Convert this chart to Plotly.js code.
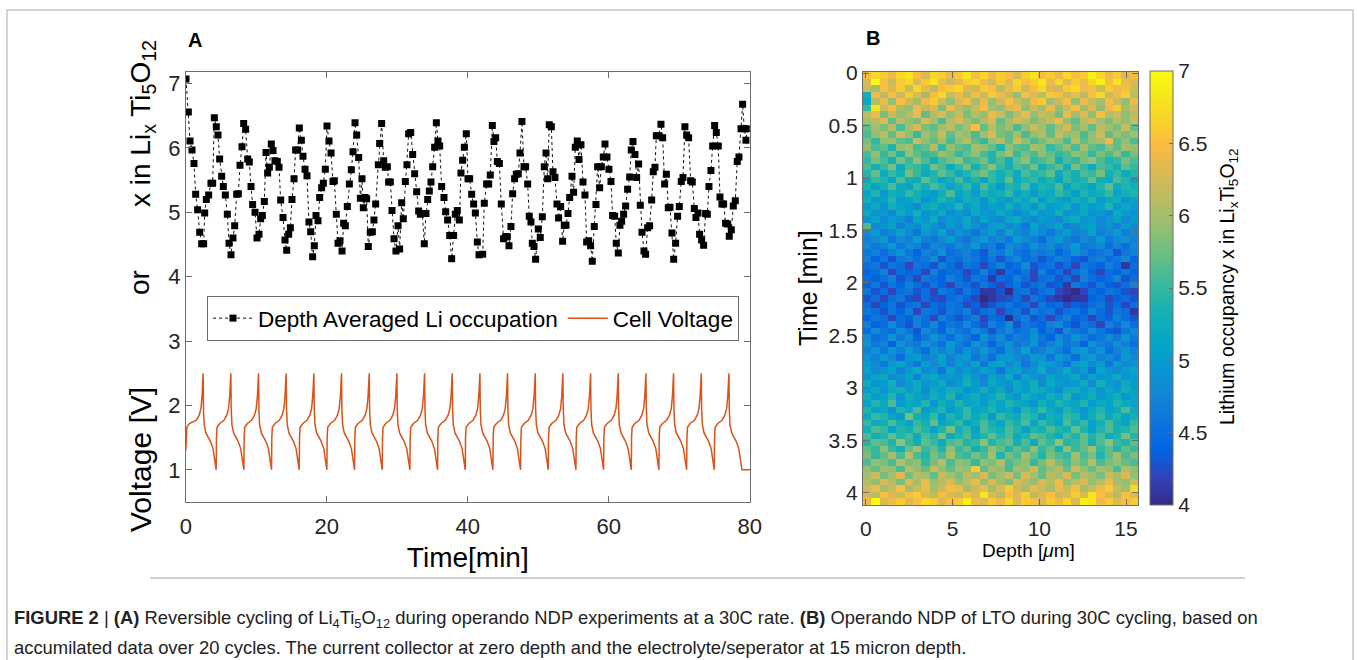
<!DOCTYPE html>
<html>
<head>
<meta charset="utf-8">
<script src="https://cdn.plot.ly/plotly-3.0.1.min.js"></script>
<style>html,body{margin:0;padding:0;background:#fff;}#chart{width:1357px;height:660px;}</style>
</head>
<body>
<div id="chart"></div>
<script>
// ---- Panel A: depth-averaged Li occupation (x in LixTi5O12) ----
const timeLi = [0.03,0.36,0.60,0.88,1.16,1.40,1.68,1.97,2.25,2.53,
2.68,2.91,3.24,3.57,3.81,4.05,4.33,4.57,4.80,5.09,
5.32,5.61,5.89,6.13,6.41,6.69,6.93,7.22,7.45,7.69,
7.97,8.21,8.49,8.78,9.01,9.25,9.48,9.82,10.10,10.38,
10.62,10.86,11.14,11.38,11.61,11.85,12.13,12.37,12.65,12.98,
13.22,13.46,13.79,14.07,14.31,14.59,14.83,15.06,15.35,15.58,
15.87,16.10,16.39,16.62,16.91,17.19,17.47,17.71,17.99,18.23,
18.47,18.75,18.99,19.27,19.51,19.79,20.03,20.31,20.60,20.88,
21.07,21.35,21.59,21.87,22.16,22.39,22.63,22.91,23.20,23.48,
23.72,24.00,24.24,24.52,24.76,24.99,25.18,25.42,25.65,25.89,
26.17,26.46,26.69,26.93,27.31,27.50,27.78,28.07,28.30,28.59,
28.77,29.01,29.25,29.53,29.81,30.10,30.33,30.62,30.85,31.14,
31.37,31.61,31.90,32.18,32.46,32.75,33.03,33.27,33.55,33.83,
34.07,34.31,34.54,34.78,35.02,35.30,35.54,35.77,36.01,36.29,
36.62,36.86,37.14,37.43,37.71,37.99,38.23,38.51,38.80,39.03,
39.27,39.51,39.79,40.03,40.26,40.55,40.83,41.07,41.35,41.59,
42.11,42.34,42.67,42.96,43.19,43.48,43.71,43.95,44.19,44.47,
44.75,45.08,45.37,45.60,45.84,46.12,46.36,46.64,46.88,47.16,
47.40,47.68,47.97,48.20,48.49,48.72,48.96,49.15,49.38,49.62,
50.00,50.28,50.57,50.85,51.09,51.32,51.56,51.85,52.08,52.36,
52.65,52.88,53.17,53.45,53.69,53.93,54.21,54.45,54.78,55.01,
55.25,55.53,55.77,56.05,56.34,56.62,56.86,57.14,57.42,57.66,
57.94,58.18,58.42,58.70,58.94,59.22,59.46,59.74,60.02,60.31,
60.54,60.83,61.06,61.35,61.58,61.82,62.10,62.39,62.67,62.96,
63.19,63.43,63.71,63.95,64.23,64.47,64.71,64.99,65.22,65.51,
65.79,66.08,66.31,66.55,66.74,67.07,67.40,67.64,67.92,68.16,
68.44,68.68,68.96,69.20,69.48,69.76,70.00,70.28,70.52,70.80,
71.04,71.32,71.61,71.84,72.13,72.36,72.65,72.88,73.17,73.45,
73.73,73.97,74.21,74.49,74.73,75.01,75.25,75.53,75.77,76.05,
76.29,76.57,76.86,77.09,77.38,77.66,77.94,78.22,78.46,78.75,
78.98,79.22,79.46,79.65];
const liOccupation = [7.07,6.56,6.11,5.97,5.76,5.28,5.04,4.69,4.51,4.51,
4.99,5.20,5.27,5.45,5.45,6.47,6.33,6.20,5.83,5.56,
5.40,5.27,4.97,4.52,4.34,4.60,4.79,5.28,5.29,5.73,
6.02,6.38,6.29,5.83,5.78,5.40,5.12,5.00,4.60,4.66,
4.90,4.95,5.17,5.93,5.61,5.70,6.06,5.96,5.80,5.79,
5.70,5.19,4.92,4.57,4.41,4.66,4.76,5.20,5.52,5.97,
5.97,6.31,6.12,5.87,5.67,5.57,4.85,4.70,4.31,4.48,
4.95,4.87,5.23,5.38,5.45,5.67,6.34,6.11,5.92,5.48,
5.49,4.97,4.52,4.56,4.40,4.83,4.79,5.09,5.44,5.66,
5.94,6.39,6.20,5.85,5.22,5.52,5.07,5.23,5.21,4.47,
4.69,4.70,4.88,5.13,5.74,6.07,6.38,5.80,5.70,5.71,
5.47,5.47,5.03,4.59,4.40,4.79,4.43,5.15,4.90,5.48,
5.74,6.22,6.24,5.90,5.60,5.32,5.02,4.97,4.98,4.51,
4.98,5.20,5.33,5.47,5.71,6.01,6.39,6.11,6.03,5.40,
5.23,5.01,4.88,4.64,4.28,4.64,4.97,5.03,4.88,5.61,
5.81,6.01,6.22,5.52,5.52,5.28,5.13,4.99,4.54,4.34,
4.35,5.14,5.44,5.44,5.58,6.35,6.10,6.16,5.79,5.76,
5.13,4.59,4.62,4.62,4.48,4.78,5.29,5.52,5.59,5.60,
5.92,6.41,5.71,5.71,5.44,4.94,4.85,4.52,4.47,4.27,
4.74,4.61,4.93,5.71,5.92,5.52,6.36,6.33,5.63,5.54,
5.13,4.91,5.09,4.55,4.80,4.80,4.98,5.23,5.56,5.31,
6.01,6.11,5.82,6.05,5.47,5.27,4.54,4.56,4.48,4.24,
4.78,5.12,5.71,5.38,5.71,5.86,6.06,5.86,5.67,5.48,
4.95,4.94,4.52,4.37,4.80,4.86,4.97,5.10,5.36,5.55,
5.97,6.10,5.90,5.54,5.75,5.11,4.69,4.40,4.35,4.76,
4.79,5.19,5.63,5.70,6.19,6.19,6.37,6.16,5.44,5.59,
5.07,5.08,4.68,4.27,4.52,4.94,5.09,5.48,5.54,6.33,
6.20,6.16,5.49,5.47,5.06,4.92,4.99,4.66,4.57,4.49,
4.98,4.97,5.40,5.65,6.03,6.35,6.24,6.03,5.24,5.13,
5.13,4.83,4.82,4.63,4.73,5.10,5.18,5.79,5.86,6.30,
6.68,6.30,6.12,6.30];

// ---- Panel A: cell voltage ----
const timeV = [0,0.15,0.5,1.0,1.5,1.9,2.15,2.31,2.46,2.51,2.61,2.86,3.46,3.86,4.11,
4.31,4.35,4.43,4.81,5.41,5.81,6.06,6.23,6.39,6.44,6.54,6.79,7.39,7.79,8.04,
8.24,8.28,8.36,8.74,9.34,9.74,9.99,10.16,10.32,10.37,10.47,10.72,11.32,11.72,11.97,
12.16,12.20,12.28,12.66,13.26,13.66,13.91,14.08,14.24,14.29,14.39,14.64,15.24,15.64,15.89,
16.09,16.13,16.21,16.59,17.19,17.59,17.84,18.01,18.17,18.22,18.32,18.57,19.17,19.57,19.82,
20.01,20.05,20.13,20.51,21.11,21.51,21.76,21.93,22.09,22.14,22.24,22.49,23.09,23.49,23.74,
23.94,23.98,24.06,24.44,25.04,25.44,25.69,25.86,26.02,26.07,26.17,26.42,27.02,27.42,27.67,
27.86,27.90,27.98,28.36,28.96,29.36,29.61,29.78,29.94,29.99,30.09,30.34,30.94,31.34,31.59,
31.79,31.83,31.91,32.29,32.89,33.29,33.54,33.71,33.87,33.92,34.02,34.27,34.87,35.27,35.52,
35.71,35.75,35.83,36.21,36.81,37.21,37.46,37.63,37.79,37.84,37.94,38.19,38.79,39.19,39.44,
39.64,39.68,39.76,40.14,40.74,41.14,41.39,41.56,41.72,41.77,41.87,42.12,42.72,43.12,43.37,
43.56,43.60,43.68,44.06,44.66,45.06,45.31,45.48,45.64,45.69,45.79,46.04,46.64,47.04,47.29,
47.49,47.53,47.61,47.99,48.59,48.99,49.24,49.41,49.57,49.62,49.72,49.97,50.57,50.97,51.22,
51.41,51.45,51.53,51.91,52.51,52.91,53.16,53.33,53.49,53.54,53.64,53.89,54.49,54.89,55.14,
55.34,55.38,55.46,55.84,56.44,56.84,57.09,57.26,57.42,57.47,57.57,57.82,58.42,58.82,59.07,
59.26,59.30,59.38,59.76,60.36,60.76,61.01,61.18,61.34,61.39,61.49,61.74,62.34,62.74,62.99,
63.19,63.23,63.31,63.69,64.29,64.69,64.94,65.11,65.27,65.32,65.42,65.67,66.27,66.67,66.92,
67.11,67.15,67.23,67.61,68.21,68.61,68.86,69.03,69.19,69.24,69.34,69.59,70.19,70.59,70.84,
71.04,71.08,71.16,71.54,72.14,72.54,72.79,72.96,73.12,73.17,73.27,73.52,74.12,74.52,74.77,
74.96,75.00,75.08,75.46,76.06,76.46,76.71,76.88,77.04,77.09,77.19,77.44,78.04,78.44,78.69,
78.89,80.00];
const cellVoltage = [1.30,1.66,1.72,1.75,1.77,1.85,1.95,2.15,2.50,1.95,1.70,1.57,1.45,1.33,1.17,
1.00,1.50,1.66,1.72,1.77,1.85,1.95,2.15,2.50,1.95,1.70,1.57,1.45,1.33,1.17,
1.00,1.50,1.66,1.72,1.77,1.85,1.95,2.15,2.50,1.95,1.70,1.57,1.45,1.33,1.17,
1.00,1.50,1.66,1.72,1.77,1.85,1.95,2.15,2.50,1.95,1.70,1.57,1.45,1.33,1.17,
1.00,1.50,1.66,1.72,1.77,1.85,1.95,2.15,2.50,1.95,1.70,1.57,1.45,1.33,1.17,
1.00,1.50,1.66,1.72,1.77,1.85,1.95,2.15,2.50,1.95,1.70,1.57,1.45,1.33,1.17,
1.00,1.50,1.66,1.72,1.77,1.85,1.95,2.15,2.50,1.95,1.70,1.57,1.45,1.33,1.17,
1.00,1.50,1.66,1.72,1.77,1.85,1.95,2.15,2.50,1.95,1.70,1.57,1.45,1.33,1.17,
1.00,1.50,1.66,1.72,1.77,1.85,1.95,2.15,2.50,1.95,1.70,1.57,1.45,1.33,1.17,
1.00,1.50,1.66,1.72,1.77,1.85,1.95,2.15,2.50,1.95,1.70,1.57,1.45,1.33,1.17,
1.00,1.50,1.66,1.72,1.77,1.85,1.95,2.15,2.50,1.95,1.70,1.57,1.45,1.33,1.17,
1.00,1.50,1.66,1.72,1.77,1.85,1.95,2.15,2.50,1.95,1.70,1.57,1.45,1.33,1.17,
1.00,1.50,1.66,1.72,1.77,1.85,1.95,2.15,2.50,1.95,1.70,1.57,1.45,1.33,1.17,
1.00,1.50,1.66,1.72,1.77,1.85,1.95,2.15,2.50,1.95,1.70,1.57,1.45,1.33,1.17,
1.00,1.50,1.66,1.72,1.77,1.85,1.95,2.15,2.50,1.95,1.70,1.57,1.45,1.33,1.17,
1.00,1.50,1.66,1.72,1.77,1.85,1.95,2.15,2.50,1.95,1.70,1.57,1.45,1.33,1.17,
1.00,1.50,1.66,1.72,1.77,1.85,1.95,2.15,2.50,1.95,1.70,1.57,1.45,1.33,1.17,
1.00,1.50,1.66,1.72,1.77,1.85,1.95,2.15,2.50,1.95,1.70,1.57,1.45,1.33,1.17,
1.00,1.50,1.66,1.72,1.77,1.85,1.95,2.15,2.50,1.95,1.70,1.57,1.45,1.33,1.17,
1.00,1.50,1.66,1.72,1.77,1.85,1.95,2.15,2.50,1.95,1.70,1.57,1.45,1.33,1.17,
1.00,1.00];

// ---- Panel B: operando NDP map ----
const depthUm = [0.07,0.55,1.03,1.51,1.99,2.47,2.95,3.43,3.91,4.39,4.87,5.35,5.83,6.31,6.79,7.27,7.75,8.23,8.71,9.19,9.67,10.15,10.63,11.11,11.59,12.07,12.55,13.03,13.51,13.99,14.47,14.95,15.43];
const timeMin = [0.021,0.084,0.146,0.209,0.271,0.334,0.396,0.459,0.521,0.584,0.646,0.709,0.771,0.834,0.896,0.959,1.021,1.084,1.146,1.209,1.271,1.334,1.396,1.459,1.521,1.584,1.646,1.709,1.771,1.834,1.896,1.959,2.021,2.084,2.146,2.209,2.271,2.334,2.396,2.459,2.521,2.584,2.646,2.709,2.771,2.834,2.896,2.959,3.021,3.084,3.146,3.209,3.271,3.334,3.396,3.459,3.521,3.584,3.646,3.709,3.771,3.834,3.896,3.959,4.021,4.084];
const liOccupancyMap = [
[6.5,6.7,6.6,6.4,6.7,6.8,6.5,6.3,6.7,6.6,6.4,6.6,6.8,6.5,6.7,6.4,6.6,6.5,6.3,6.6,6.8,6.5,6.6,6.4,6.7,6.5,6.6,6.9,6.7,6.4,6.6,6.3,6.5],
[6.3,7.0,6.5,6.2,6.6,6.7,6.3,6.6,6.8,6.4,6.2,6.4,6.6,6.7,6.4,6.2,6.6,6.3,6.7,6.5,6.6,6.8,6.4,6.7,6.3,6.6,6.4,6.7,6.9,6.5,6.8,6.4,6.3],
[6.2,6.0,6.5,6.3,6.6,6.2,6.7,6.4,6.1,6.5,6.6,6.7,6.3,6.2,6.6,6.5,6.1,6.4,6.6,6.2,6.5,6.7,6.3,6.2,6.6,6.7,6.4,6.5,6.2,6.6,6.4,6.5,6.2],
[5.3,6.4,6.1,6.5,6.2,6.6,6.3,6.0,6.5,6.7,6.2,6.4,6.1,6.5,6.2,6.6,6.4,6.2,5.9,6.5,6.3,6.1,6.6,6.5,6.2,6.4,6.1,6.5,6.7,6.2,6.4,6.6,6.1],
[5.2,6.1,6.4,5.9,6.5,6.2,6.0,6.4,6.6,6.2,5.9,6.3,6.5,6.0,6.4,5.9,6.2,6.5,6.2,6.0,6.4,6.6,6.0,6.2,6.5,5.9,6.4,6.2,6.0,6.5,6.2,5.9,6.4],
[5.5,6.8,6.2,6.5,6.0,5.9,6.4,6.1,6.3,5.8,6.4,6.1,5.9,6.2,6.5,6.0,5.9,6.3,6.4,5.9,6.2,6.0,6.4,5.9,6.2,6.5,6.0,6.3,5.9,6.4,6.6,6.0,6.2],
[6.1,6.4,5.8,6.2,5.9,6.1,6.4,5.7,6.1,6.3,5.9,6.2,5.8,6.1,5.9,6.4,6.2,5.8,6.1,6.4,5.9,6.2,6.1,5.8,6.4,6.0,6.3,5.9,6.5,6.1,6.2,5.9,6.1],
[6.0,6.1,6.3,5.7,6.1,5.9,5.8,6.3,6.0,5.6,6.1,6.3,6.0,5.8,6.1,6.3,5.7,6.0,6.3,6.1,5.8,6.0,6.2,6.4,5.9,5.7,6.1,6.3,6.0,5.8,6.1,5.9,6.2],
[5.7,6.0,5.8,6.1,5.6,6.0,6.3,5.8,5.7,6.0,6.1,5.8,6.0,6.5,5.7,6.1,5.8,6.0,5.6,5.9,6.2,6.0,5.7,6.0,6.3,5.8,6.0,5.7,6.1,6.0,5.8,6.2,5.7],
[5.6,5.9,6.1,5.7,6.2,5.9,5.5,6.0,5.8,6.2,5.7,6.0,5.9,5.6,6.0,6.3,5.8,5.7,6.0,5.6,5.9,6.1,5.7,6.2,5.9,6.0,5.6,5.9,6.2,5.7,6.0,5.8,6.0],
[5.8,5.5,5.9,6.0,5.7,5.6,6.2,5.9,5.7,6.0,5.6,5.9,6.1,5.7,5.5,5.9,6.1,5.7,6.2,5.9,5.6,5.8,6.0,5.9,5.6,6.1,5.7,5.9,6.0,6.4,5.7,5.9,5.6],
[5.9,5.6,5.7,5.4,5.9,6.0,5.6,5.7,6.1,5.5,5.9,5.7,5.6,6.0,5.9,5.7,5.4,5.9,5.7,5.6,6.0,5.9,5.5,5.7,5.9,5.6,6.0,5.7,5.6,5.9,5.7,6.0,5.9],
[5.6,5.9,5.5,5.8,5.4,5.9,5.7,5.5,5.6,6.0,5.8,5.5,5.7,5.9,5.6,5.4,5.8,6.0,5.5,5.8,5.6,5.9,5.7,5.5,5.6,5.9,5.8,5.5,5.8,5.6,5.9,5.5,5.8],
[5.5,5.8,5.6,5.3,5.8,5.5,5.9,5.6,5.3,5.6,5.8,5.9,5.5,5.6,5.8,5.4,5.6,5.3,5.7,5.9,5.5,5.6,5.8,5.3,5.6,5.5,5.8,5.9,5.6,5.4,5.5,5.8,5.6],
[5.6,5.3,5.5,5.8,5.2,5.6,5.5,5.3,5.8,5.6,5.2,5.5,5.8,5.3,5.6,5.9,5.5,5.3,5.6,5.5,5.8,5.3,5.5,5.7,5.3,5.8,5.5,5.2,5.6,5.5,5.3,5.7,5.5],
[5.4,5.7,5.2,5.5,5.3,5.8,5.5,5.2,5.4,5.7,5.5,5.2,5.4,5.6,5.8,5.5,5.3,5.5,5.2,5.6,5.4,5.5,5.7,5.2,5.5,5.3,5.6,5.5,5.8,5.3,5.5,5.2,5.4],
[5.2,5.5,5.4,5.1,5.6,5.3,5.2,5.7,5.4,5.1,5.3,5.6,5.2,5.4,5.1,5.5,5.3,5.7,5.2,5.4,5.5,5.2,5.4,5.1,5.5,5.3,5.4,5.7,5.3,5.2,5.6,5.4,5.1],
[5.4,5.1,5.3,5.6,5.2,5.1,5.5,5.3,5.6,5.4,5.1,5.3,5.5,5.1,5.6,5.3,5.0,5.4,5.3,5.6,5.1,5.4,5.3,5.6,5.1,5.4,5.3,5.1,5.4,5.7,5.2,5.4,5.3],
[5.1,5.4,5.0,5.3,5.2,5.5,5.3,5.1,5.0,5.3,5.6,5.1,5.3,5.0,5.4,5.2,5.3,5.5,5.1,5.3,5.0,5.3,5.2,5.5,5.3,5.0,5.4,5.2,5.3,5.5,5.1,5.3,5.4],
[5.3,5.0,5.1,5.4,5.0,5.1,5.3,4.9,5.1,5.4,5.2,5.0,5.3,5.2,4.9,5.3,5.1,5.0,5.3,5.1,5.4,5.0,5.3,5.1,5.0,5.3,5.1,5.4,5.0,5.2,5.3,4.9,5.1],
[5.0,5.2,4.9,5.3,5.1,5.0,4.8,5.2,5.3,5.0,5.1,5.4,5.0,5.2,4.9,5.1,5.0,5.3,5.0,5.2,4.9,5.3,5.0,5.1,5.3,4.9,5.2,5.0,5.1,5.4,5.0,5.2,5.0],
[5.2,4.9,5.0,4.8,5.2,5.0,5.3,4.9,5.0,5.2,4.8,5.0,4.8,5.2,5.0,4.9,5.2,5.0,4.8,5.0,5.2,4.9,5.0,5.3,4.9,5.0,5.2,4.9,5.0,4.8,5.2,5.0,4.9],
[4.9,5.1,4.8,5.0,4.9,4.7,5.1,4.9,5.2,4.8,5.0,4.9,5.2,4.8,5.1,4.9,4.8,5.1,5.2,4.9,4.8,5.0,4.9,4.8,5.1,5.2,4.9,5.0,4.8,4.9,5.1,4.8,5.0],
[5.6,4.8,4.9,5.1,4.7,4.9,4.8,5.1,4.9,4.7,5.0,4.8,5.1,4.9,4.7,5.0,5.1,4.8,4.9,4.6,5.1,4.8,4.9,5.1,4.7,4.8,5.0,5.1,4.8,4.9,4.7,5.0,4.8],
[4.8,5.0,4.7,4.8,5.1,4.8,4.6,5.0,4.8,5.1,4.7,4.9,4.8,4.6,4.8,5.0,4.7,5.1,4.8,4.7,5.0,4.8,4.6,4.8,5.0,4.7,4.8,5.1,4.7,4.8,5.0,4.7,4.8],
[4.7,4.8,5.0,4.6,4.8,4.7,5.0,4.7,4.6,4.8,5.0,4.7,4.6,4.8,5.0,4.7,4.8,4.6,5.0,4.8,4.7,4.5,4.8,5.0,4.7,4.6,4.8,4.7,5.0,4.6,4.8,4.9,4.7],
[4.8,4.6,4.7,5.0,4.6,4.8,4.7,4.5,4.8,4.7,4.6,4.8,4.7,5.0,4.6,4.7,4.4,4.8,4.7,4.6,4.9,4.7,4.8,4.6,4.7,5.0,4.6,4.7,4.8,4.5,4.7,4.5,4.8],
[4.6,4.7,4.5,4.7,4.9,4.6,4.4,4.7,4.6,4.9,4.5,4.6,4.7,4.5,4.3,4.7,4.6,4.9,4.6,4.5,4.7,4.6,4.7,4.4,4.6,4.9,4.7,4.5,4.6,4.7,4.3,4.6,4.7],
[4.7,4.4,4.6,4.3,4.6,4.7,4.5,4.6,4.8,4.3,4.6,4.5,4.7,4.6,4.4,4.6,4.3,4.6,4.8,4.5,4.6,4.3,4.5,4.7,4.6,4.4,4.3,4.6,4.7,4.5,4.6,4.8,4.4],
[4.5,4.6,4.3,4.6,4.5,4.2,4.6,4.5,4.3,4.7,4.5,4.3,4.6,4.5,4.2,4.5,4.7,4.4,4.5,4.8,4.3,4.5,4.6,4.3,4.5,4.2,4.6,4.5,4.4,4.7,4.5,4.1,4.5],
[4.4,4.5,4.7,4.2,4.5,4.4,4.5,4.2,4.7,4.4,4.5,4.5,4.2,4.4,4.7,4.4,4.1,4.5,4.4,4.6,4.2,4.7,4.4,4.5,4.2,4.5,4.7,4.4,4.2,4.5,4.4,4.6,4.4],
[4.5,4.4,4.5,4.7,4.3,4.5,4.2,4.6,4.5,4.4,4.7,4.5,4.3,4.6,4.5,4.1,4.5,4.4,4.7,4.5,4.2,4.5,4.6,4.3,4.5,4.2,4.7,4.5,4.4,4.5,4.7,4.3,4.5],
[4.4,4.6,4.3,4.6,4.4,4.7,4.5,4.3,4.6,4.4,4.2,4.6,4.5,4.3,4.6,4.4,4.2,4.4,4.6,4.3,4.5,4.6,4.3,4.4,4.1,4.6,4.5,4.3,4.6,4.4,4.3,4.5,4.7],
[4.6,4.3,4.5,4.2,4.5,4.6,4.3,4.5,4.2,4.6,4.5,4.3,4.6,4.4,4.1,4.1,4.3,4.0,4.5,4.6,4.3,4.5,4.6,4.2,4.1,4.0,4.2,4.5,4.4,4.6,4.5,4.3,4.2],
[4.3,4.5,4.2,4.5,4.6,4.3,4.2,4.5,4.3,4.2,4.5,4.6,4.4,4.2,4.0,4.1,4.2,4.3,4.5,4.2,4.6,4.4,4.2,4.1,4.0,4.1,4.1,4.4,4.5,4.2,4.4,4.5,4.3],
[4.5,4.2,4.4,4.6,4.3,4.5,4.6,4.2,4.5,4.4,4.6,4.5,4.2,4.4,4.1,4.3,4.5,4.6,4.4,4.5,4.2,4.6,4.4,4.5,4.2,4.4,4.3,4.5,4.6,4.3,4.5,4.2,4.5],
[4.6,4.5,4.3,4.6,4.4,4.7,4.2,4.6,4.5,4.3,4.6,4.5,4.7,4.3,4.5,4.6,4.2,4.5,4.6,4.3,4.7,4.5,4.6,4.3,4.5,4.6,4.4,4.7,4.5,4.3,4.6,4.5,4.1],
[4.4,4.6,4.5,4.2,4.5,4.4,4.7,4.5,4.2,4.7,4.5,4.3,4.5,4.7,4.2,4.5,4.4,4.0,4.5,4.7,4.3,4.5,4.2,4.5,4.7,4.4,4.5,4.2,4.5,4.4,4.7,4.5,4.3],
[4.7,4.4,4.5,4.8,4.5,4.3,4.7,4.5,4.8,4.4,4.6,4.5,4.8,4.5,4.3,4.7,4.5,4.8,4.3,4.6,4.5,4.4,4.7,4.8,4.5,4.3,4.6,4.5,4.2,4.7,4.5,4.8,4.5],
[4.5,4.8,4.6,4.5,4.8,4.6,4.3,4.8,4.6,4.4,4.8,4.6,4.5,4.8,4.6,4.3,4.6,4.8,4.5,4.6,4.8,4.4,4.6,4.3,4.8,4.6,4.5,4.8,4.6,4.4,4.3,4.6,4.8],
[4.8,4.5,4.6,4.9,4.6,4.8,4.4,4.6,4.9,4.7,4.5,4.8,4.6,4.4,4.9,4.6,4.8,4.5,4.7,4.6,4.9,4.6,4.4,4.8,4.6,4.9,4.7,4.5,4.6,4.8,4.6,4.9,4.6],
[4.9,4.6,4.7,4.4,4.9,4.7,4.6,4.9,4.7,4.5,5.0,4.7,4.5,4.9,4.7,4.4,4.7,4.9,4.6,4.7,4.9,4.5,4.7,4.9,4.6,4.7,4.4,4.9,4.7,4.6,4.9,4.7,4.5],
[4.7,4.9,4.6,4.9,4.7,5.0,4.7,4.5,4.9,4.7,4.9,4.6,4.9,4.7,5.0,4.7,4.5,4.9,4.7,5.1,4.6,4.7,4.9,4.7,4.5,4.9,5.0,4.7,4.9,4.5,4.7,4.9,4.7],
[4.9,4.7,5.0,4.8,4.5,4.9,5.0,4.7,4.8,5.1,4.7,4.9,5.0,4.6,4.8,4.5,4.9,5.0,4.8,4.7,5.0,4.9,4.6,5.0,4.8,4.5,4.9,5.0,4.7,4.8,4.6,5.0,4.8],
[5.0,4.8,4.6,5.0,5.1,4.8,4.6,5.0,4.8,5.0,4.7,5.0,4.8,5.1,4.6,5.0,5.1,4.8,5.0,4.6,4.8,5.1,5.0,4.8,4.6,5.0,5.1,4.8,5.0,4.6,5.0,4.8,4.9],
[5.1,4.8,4.9,5.1,4.7,5.0,5.2,4.8,4.9,4.6,5.1,4.8,5.0,4.8,5.1,4.9,4.6,5.0,5.1,4.8,4.9,5.2,4.8,4.9,5.2,4.8,5.0,4.6,5.1,4.9,4.8,5.0,5.1],
[4.9,5.1,5.2,4.8,4.9,5.1,4.7,5.1,5.2,4.9,5.0,4.9,5.2,4.9,4.7,5.1,4.9,5.2,4.7,5.1,4.9,4.8,5.1,4.9,5.0,5.2,4.8,5.1,4.9,5.0,5.2,4.9,5.0],
[5.2,4.9,5.0,5.3,4.8,5.0,5.2,4.9,5.0,5.2,4.8,5.0,5.3,5.0,4.8,5.2,5.0,4.9,5.2,5.0,5.3,4.8,5.2,5.0,4.9,5.0,5.2,4.8,5.3,5.0,4.9,5.2,5.0],
[5.0,5.2,4.9,5.2,5.3,5.0,5.2,4.8,5.2,5.0,5.3,5.2,4.9,5.0,5.3,5.0,5.2,4.8,5.2,5.0,5.3,5.2,5.0,4.8,5.2,5.3,5.0,5.2,4.9,5.2,5.0,5.3,5.1],
[5.3,5.0,5.1,5.4,4.9,5.3,5.1,5.0,5.3,5.1,5.4,4.9,5.1,5.3,5.0,5.1,5.4,5.1,4.9,5.3,5.1,5.0,5.3,5.1,5.4,4.9,5.1,5.3,5.0,5.1,5.3,4.9,5.1],
[5.1,5.4,5.2,5.6,5.0,5.2,5.1,5.4,4.9,5.3,5.1,5.4,5.1,5.2,5.0,5.3,5.1,5.4,5.2,5.1,4.9,5.3,5.1,5.4,5.2,5.1,5.4,5.0,5.2,5.1,5.4,5.2,5.1],
[5.4,5.1,5.2,4.9,5.4,5.2,5.6,5.0,5.2,5.4,5.0,5.2,5.5,5.1,5.2,5.4,5.1,5.2,4.9,5.4,5.2,5.5,5.2,5.0,5.4,5.2,4.9,5.2,5.4,5.1,5.2,5.6,5.2],
[5.2,5.5,5.4,5.1,5.0,5.8,5.3,5.2,5.5,5.0,5.4,5.2,5.5,5.2,5.4,5.0,5.5,5.3,5.2,5.5,5.4,5.0,5.3,5.2,5.5,5.4,5.0,5.3,5.5,5.2,5.4,5.1,5.3],
[5.5,5.2,5.3,5.6,5.3,5.1,5.5,5.3,5.7,5.1,5.3,5.5,5.1,5.3,5.6,5.3,5.1,5.5,5.3,5.6,5.1,5.5,5.3,5.1,5.6,5.3,5.5,5.1,5.3,5.6,5.3,5.1,5.5],
[5.3,5.6,5.5,5.1,5.4,5.3,5.6,5.4,5.1,5.4,5.8,5.3,5.5,5.1,5.6,5.4,5.3,5.6,5.4,5.1,5.4,5.3,5.6,5.4,5.3,5.7,5.4,5.1,5.4,5.6,5.3,5.4,5.6],
[5.6,5.3,5.4,5.7,5.4,5.6,5.2,5.6,5.4,5.8,5.2,5.4,5.6,5.2,5.4,5.7,5.4,5.6,5.2,5.4,5.7,5.6,5.4,5.2,5.6,5.4,5.7,5.4,5.6,5.2,5.4,5.8,5.4],
[5.4,5.7,5.6,5.4,5.9,5.5,5.3,5.7,5.5,5.2,5.6,5.7,5.4,5.5,5.9,5.4,5.6,5.7,5.3,5.6,5.2,5.7,5.5,5.9,5.4,5.5,5.7,5.3,5.6,5.9,5.5,5.4,5.7],
[5.7,5.5,5.9,5.5,5.3,5.7,6.0,5.5,5.7,5.4,5.9,5.5,5.7,5.3,5.5,5.9,5.7,5.4,5.7,5.5,5.9,5.5,5.7,5.3,5.9,5.5,5.7,6.0,5.5,5.7,5.4,5.7,5.5],
[5.8,5.5,5.7,6.0,5.6,6.1,5.6,5.4,5.8,5.6,6.0,5.6,5.5,5.8,5.6,6.0,5.4,5.8,5.6,6.0,5.7,5.4,5.8,5.6,5.5,6.0,5.6,5.8,5.4,5.7,6.0,5.6,5.8],
[5.6,5.9,5.8,5.6,6.1,5.8,5.9,5.5,5.8,6.1,5.6,5.9,5.8,5.5,5.9,5.8,6.1,5.6,5.8,5.9,5.5,5.8,6.1,5.8,5.6,5.9,5.7,6.1,5.6,5.8,5.9,5.7,5.6],
[5.9,5.7,6.0,5.9,5.6,6.1,5.9,5.7,6.2,5.9,5.7,6.0,5.9,6.6,5.7,6.0,5.9,5.6,6.0,5.9,6.2,5.7,5.9,6.1,5.7,6.2,5.9,5.7,6.0,5.9,5.6,6.1,5.9],
[6.0,6.2,5.8,6.0,6.3,5.8,6.1,6.0,5.7,6.2,6.0,5.8,6.1,6.0,6.3,5.8,6.0,6.2,5.8,6.3,6.0,5.7,6.1,6.0,6.3,5.8,6.1,6.0,5.8,6.2,6.0,6.3,5.9],
[6.1,5.9,6.3,6.1,5.8,6.3,6.0,6.4,5.9,6.1,6.3,5.9,6.1,6.4,5.9,6.3,6.0,5.8,6.3,6.1,5.9,6.3,6.1,6.4,5.9,6.1,6.3,5.9,6.1,6.4,6.0,5.9,6.2],
[6.2,6.4,6.0,6.2,6.5,6.0,6.2,6.4,6.0,6.2,6.5,6.4,6.0,6.2,6.4,6.0,6.3,6.6,6.2,6.0,6.4,6.2,6.0,6.4,6.2,6.5,6.0,6.2,6.4,6.6,6.2,6.0,6.7],
[6.3,6.1,6.5,6.3,6.2,6.5,6.6,6.3,6.1,6.5,6.3,6.2,6.5,6.3,6.8,6.3,6.1,6.5,6.3,6.6,6.1,6.3,6.5,6.2,6.3,6.6,6.3,6.8,6.5,6.3,6.1,6.5,6.3],
[6.4,7.0,6.3,6.4,6.6,6.3,6.5,6.7,6.6,6.3,6.5,6.6,6.9,6.4,6.3,6.6,6.4,6.7,6.3,6.6,6.5,6.3,6.6,6.4,6.7,6.3,6.9,6.8,6.4,6.6,6.3,6.5,6.6]
];
const colorTicks = [4,4.5,5,5.5,6,6.5,7];

// MATLAB parula
const parula = [[0,'rgb(53,42,135)'],[0.0635,'rgb(50,67,186)'],[0.127,'rgb(3,99,225)'],[0.19,'rgb(13,117,220)'],[0.254,'rgb(20,133,212)'],[0.317,'rgb(9,152,209)'],[0.381,'rgb(6,167,198)'],[0.444,'rgb(21,177,180)'],[0.508,'rgb(56,185,158)'],[0.571,'rgb(101,190,134)'],[0.635,'rgb(146,191,115)'],[0.698,'rgb(183,189,100)'],[0.762,'rgb(217,186,86)'],[0.825,'rgb(248,187,68)'],[0.889,'rgb(250,211,42)'],[0.952,'rgb(245,235,24)'],[1,'rgb(249,251,14)']];

const W = 1357, H = 660;
const px = v => v / W, py = v => 1 - v / H;
const FONT = 'Liberation Sans, Arial, Helvetica, sans-serif';
const AX = '#6e6e6e', TXT = '#262626';

const traces = [
  {type:'scatter', mode:'lines+markers', x:timeLi, y:liOccupation, name:'Depth Averaged Li occupation',
   line:{color:'#111', width:1, dash:'dot'}, marker:{symbol:'square', size:7, color:'#000'}, xaxis:'x', yaxis:'y'},
  {type:'scatter', mode:'lines', x:timeV, y:cellVoltage, name:'Cell Voltage',
   line:{color:'#D95319', width:1.5}, xaxis:'x', yaxis:'y'},
  {type:'heatmap', x:depthUm, y:timeMin, z:liOccupancyMap, colorscale:parula, zmin:4, zmax:7, zsmooth:false,
   showlegend:false, xaxis:'x2', yaxis:'y2',
   colorbar:{x:px(1150), xanchor:'left', xpad:0, y:py(505), yanchor:'bottom', ypad:0, len:434, lenmode:'pixels',
     thickness:23, thicknessmode:'pixels', outlinecolor:AX, outlinewidth:1, tickvals:colorTicks,
     ticks:'inside', ticklen:4, tickcolor:AX, tickfont:{size:21, color:TXT, family:FONT}}}
];

const axA = {showline:true, linecolor:AX, linewidth:1, mirror:'ticks', ticks:'inside', ticklen:6, tickcolor:AX,
  showgrid:false, zeroline:false, tickfont:{size:22, color:TXT, family:FONT}};
const axB = Object.assign({}, axA, {tickfont:{size:21, color:TXT, family:FONT}});

function label(text, x, y, size, angle, extra) {
  return Object.assign({text:text, x:px(x), y:py(y), xref:'paper', yref:'paper', xanchor:'center', yanchor:'middle',
    showarrow:false, textangle:angle || 0, font:{size:size, color:'#000', family:FONT}}, extra || {});
}

const layout = {
  width:W, height:H, margin:{l:0,r:0,t:0,b:0}, paper_bgcolor:'white', plot_bgcolor:'white',
  font:{family:FONT, color:TXT},
  showlegend:true,
  legend:{orientation:'h', x:px(207), y:py(296), xanchor:'left', yanchor:'top', bordercolor:AX, borderwidth:1,
    bgcolor:'white', font:{size:22.5, color:'#000', family:FONT}, itemwidth:40},
  xaxis:Object.assign({}, axA, {domain:[px(185.8), px(749.8)], range:[0,80], tickvals:[0,20,40,60,80], anchor:'y',
    ticklabelstandoff:5, title:{text:'Time[min]', font:{size:28, color:'#000', family:FONT}, standoff:8}}),
  yaxis:Object.assign({}, axA, {domain:[py(502), py(72)], range:[0.5,7.18], tickvals:[1,2,3,4,5,6,7], anchor:'x'}),
  xaxis2:Object.assign({}, axB, {domain:[px(863), px(1138)], range:[-0.17,15.69], tickvals:[0,5,10,15], anchor:'y2', ticklabelstandoff:5}),
  yaxis2:Object.assign({}, axB, {domain:[py(505), py(72)], range:[4.115,-0.01], tickvals:[0,0.5,1,1.5,2,2.5,3,3.5,4], anchor:'x2'}),
  annotations:[
    label('<b>A</b>', 195, 40, 20),
    label('<b>B</b>', 873, 38, 20),
    label('Voltage [V]', 140, 460, 30, -90),
    label('or', 140, 283, 28, -90),
    label('x in Li<sub>x</sub> Ti<sub>5</sub>O<sub>12</sub>', 143, 124, 28, -90),
    label('Time [min]', 808, 288, 25, -90),
    label('Depth [<i>μ</i>m]', 1028, 550, 19),
    label('Lithium occupancy x in Li<sub>x</sub>Ti<sub>5</sub>O<sub>12</sub>', 1228, 287, 19.4, -90),
    label('<b>FIGURE 2</b> | <b>(A)</b> Reversible cycling of Li<sub>4</sub>Ti<sub>5</sub>O<sub>12</sub> during operando NDP experiments at a 30C rate. <b>(B)</b> Operando NDP of LTO during 30C cycling, based on',
      12, 619, 18.4, 0, {xanchor:'left', font:{size:18.4, color:'#222', family:FONT}}),
    label('accumilated data over 20 cycles. The current collector at zero depth and the electrolyte/seperator at 15 micron depth.',
      12, 647, 18.4, 0, {xanchor:'left', font:{size:18.4, color:'#222', family:FONT}})
  ],
  shapes:[
    {type:'rect', xref:'paper', yref:'paper', x0:px(7), x1:px(1353), y0:-0.1, y1:py(10), line:{color:'#c8c8c8', width:1.5}},
    {type:'line', xref:'paper', yref:'paper', x0:px(150), x1:px(1245), y0:py(578), y1:py(578), line:{color:'#d0d0d0', width:2}}
  ]
};

Plotly.newPlot('chart', traces, layout, {displayModeBar:false, staticPlot:true});
</script>
</body>
</html>
